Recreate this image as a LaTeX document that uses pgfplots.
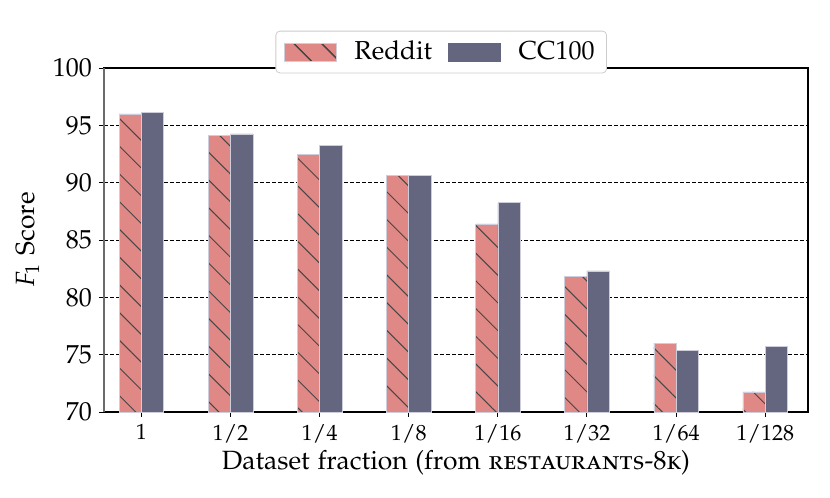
\documentclass[border=0pt]{standalone}
\usepackage[T1]{fontenc}
\usepackage[sc]{mathpazo}
\usepackage{pgfplots}
\pgfplotsset{compat=1.18}
\usetikzlibrary{patterns.meta}
\definecolor{redc}{RGB}{224,136,134}
\definecolor{bluec}{RGB}{100,102,128}
\definecolor{hatchc}{RGB}{70,70,70}
\definecolor{edgec}{RGB}{205,205,220}
\begin{document}
\begin{tikzpicture}
\begin{axis}[
  name=ax,
  at={(0,0)}, anchor=south west,
  scale only axis,
  width=352pt, height=172pt,
  xmin=-0.42, xmax=7.48,
  ymin=70, ymax=100,
  ytick={70,75,80,85,90,95,100},
  xtick={0,1,2,3,4,5,6,7},
  xticklabels={$1$,$1/2$,$1/4$,$1/8$,$1/16$,$1/32$,$1/64$,$1/128$},
  tick align=outside, tick pos=left,
  major tick length=2.5pt,
  ymajorgrids,
  major grid style={black, line width=0.4pt, dash pattern=on 2pt off 1pt},
  axis line style={line width=0.6pt},
  every tick/.style={black, line width=0.5pt},
  y tick label style={font=\fontsize{13}{15}\selectfont},
  x tick label style={font=\fontsize{11}{13}\selectfont},
  xlabel={Dataset fraction (from \textsc{restaurants-8k})},
  ylabel={$F_1$ Score},
  label style={font=\fontsize{13.2}{16}\selectfont},
  xlabel style={yshift=3pt},
  legend columns=2,
  legend style={
    at={(0.479,1.0465)}, anchor=center,
    draw={rgb,255:red,204;green,204;blue,204}, rounded corners=2pt,
    font=\fontsize{13}{15}\selectfont,
    inner xsep=4pt, inner ysep=3pt,
    /tikz/every odd column/.append style={column sep=7pt},
    /tikz/every even column/.append style={column sep=6pt},
  },
  legend cell align=left,
]
\addplot[ybar, bar width=0.25, bar shift=-0.125, fill=redc, draw=edgec, line width=0.3pt,
  postaction={pattern={Lines[angle=-45,distance=9.8pt,line width=0.5pt]}, pattern color=hatchc},
  legend image code/.code={
    \fill[redc, sharp corners] (0pt,-4.5pt) rectangle (26pt,4.5pt);
    \fill[sharp corners, pattern={Lines[angle=-45,distance=9.8pt,line width=0.5pt]}, pattern color=hatchc] (0pt,-4.5pt) rectangle (26pt,4.5pt);
  }]
coordinates {(0,96.0) (1,94.1) (2,92.45) (3,90.6) (4,86.4) (5,81.8) (6,76.0) (7,71.75)};
\addlegendentry{Reddit}
\addplot[ybar, bar width=0.25, bar shift=0.125, fill=bluec, draw=edgec, line width=0.3pt,
  legend image code/.code={
    \fill[bluec, sharp corners] (0pt,-4.5pt) rectangle (26pt,4.5pt);
  }]
coordinates {(0,96.1) (1,94.25) (2,93.25) (3,90.6) (4,88.25) (5,82.3) (6,75.4) (7,75.7)};
\addlegendentry{CC100}
\end{axis}
\draw[line width=0.6pt, gray!85!black] (ax.south west) -- (ax.north west);
\path (ax.south west) ++(-52pt,-43pt) rectangle ++(415pt,249pt);
\end{tikzpicture}
\end{document}
